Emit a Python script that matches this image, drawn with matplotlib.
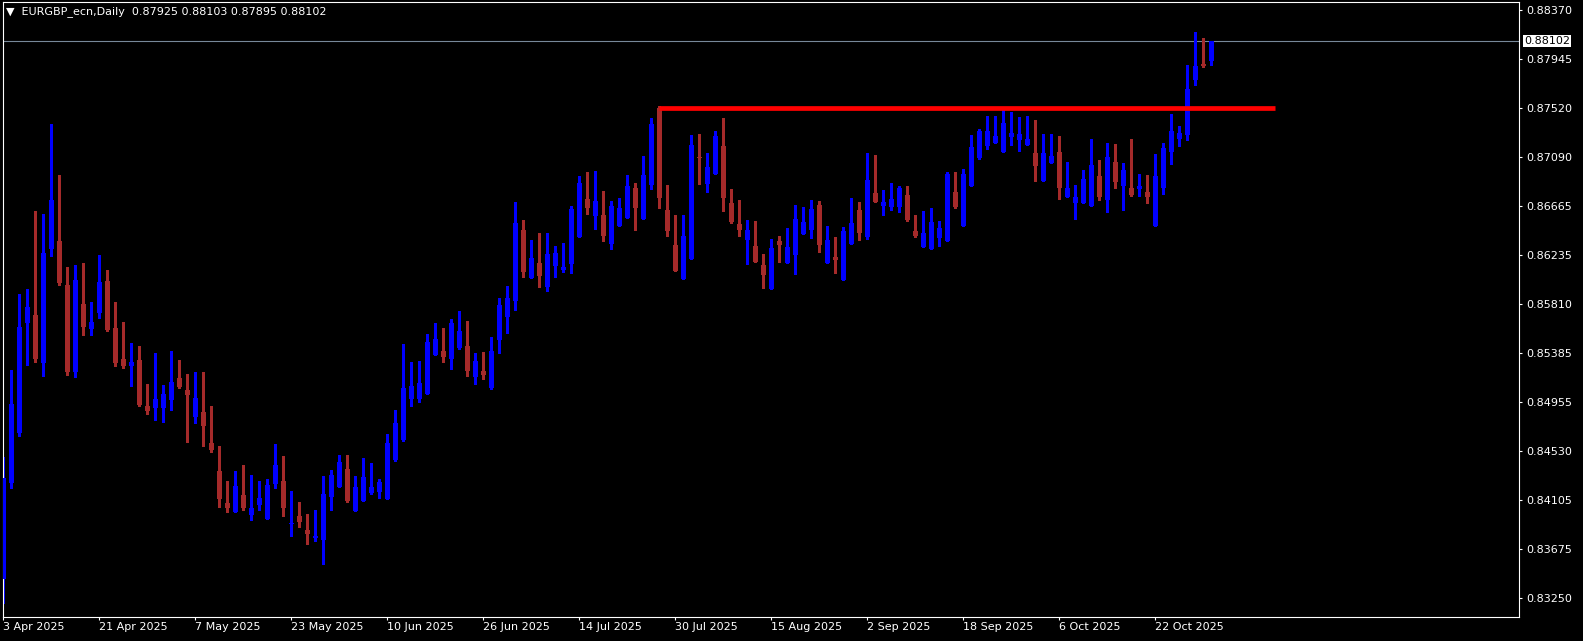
import matplotlib
matplotlib.use('Agg')
import matplotlib.pyplot as plt
import matplotlib.transforms as mtransforms
import numpy as np

# daily EURGBP candles, 3 Apr 2025 .. 31 Oct 2025
opens = [
    0.83415, 0.84251, 0.84692, 0.85650, 0.85716, 0.85301, 0.86294, 0.86361, 0.85977, 0.85223,
    0.85812, 0.85594, 0.85737, 0.86012, 0.85603, 0.85333, 0.85275, 0.85325, 0.84924, 0.84910,
    0.84910, 0.84979, 0.85168, 0.85063, 0.84831, 0.84872, 0.84602, 0.84358, 0.84080, 0.84004,
    0.84149, 0.83975, 0.84062, 0.83943, 0.84248, 0.84271, 0.83900, 0.83966, 0.83845, 0.83778,
    0.83760, 0.84135, 0.84222, 0.84376, 0.84013, 0.84100, 0.84167, 0.84178, 0.84117, 0.84457,
    0.84631, 0.84988, 0.84988, 0.85031, 0.85371, 0.85403, 0.85336, 0.85432, 0.85446, 0.85179,
    0.85229, 0.85084, 0.85502, 0.85702, 0.85841, 0.86456, 0.86041, 0.86169, 0.85963, 0.86146,
    0.86111, 0.86163, 0.86398, 0.86726, 0.86581, 0.86587, 0.86337, 0.86494, 0.86564, 0.86822,
    0.86555, 0.86851, 0.87519, 0.86631, 0.86326, 0.86033, 0.86207, 0.87092, 0.86860, 0.86947,
    0.87188, 0.86691, 0.86509, 0.86372, 0.86317, 0.86152, 0.85946, 0.86361, 0.86172, 0.86242,
    0.86424, 0.86459, 0.86674, 0.86172, 0.86221, 0.86024, 0.86337, 0.86631, 0.86398, 0.86779,
    0.86668, 0.86660, 0.86660, 0.86761, 0.86448, 0.86311, 0.86294, 0.86390, 0.86364, 0.86787,
    0.86494, 0.86842, 0.87086, 0.87191, 0.87217, 0.87138, 0.87266, 0.87243, 0.87197, 0.87127,
    0.86886, 0.87040, 0.87136, 0.86747, 0.86694, 0.86694, 0.86668, 0.86930, 0.86721, 0.87048,
    0.86842, 0.86825, 0.86816, 0.86790, 0.86494, 0.86825, 0.87138, 0.87249, 0.87284, 0.87765,
    0.87905, 0.87925,
]
highs = [
    0.84482, 0.85238, 0.85899, 0.85943, 0.86622, 0.86596, 0.87379, 0.86935, 0.86134, 0.86152,
    0.86169, 0.85830, 0.86239, 0.86108, 0.85830, 0.85655, 0.85473, 0.85446, 0.85116, 0.85386,
    0.85107, 0.85403, 0.85325, 0.85203, 0.85220, 0.85220, 0.84924, 0.84576, 0.84271, 0.84358,
    0.84410, 0.84323, 0.84271, 0.84289, 0.84593, 0.84489, 0.84184, 0.84088, 0.83984, 0.84019,
    0.84315, 0.84367, 0.84498, 0.84498, 0.84315, 0.84471, 0.84428, 0.84289, 0.84680, 0.84889,
    0.85464, 0.85307, 0.85316, 0.85551, 0.85647, 0.85603, 0.85682, 0.85751, 0.85664, 0.85386,
    0.85394, 0.85525, 0.85864, 0.85969, 0.86700, 0.86543, 0.86369, 0.86430, 0.86430, 0.86317,
    0.86343, 0.86665, 0.86926, 0.86961, 0.86970, 0.86796, 0.86709, 0.86735, 0.86935, 0.86866,
    0.87101, 0.87431, 0.87536, 0.86848, 0.86587, 0.86587, 0.87283, 0.87292, 0.87127, 0.87318,
    0.87431, 0.86813, 0.86718, 0.86543, 0.86535, 0.86247, 0.86378, 0.86404, 0.86474, 0.86674,
    0.86657, 0.86718, 0.86709, 0.86491, 0.86395, 0.86483, 0.86735, 0.86700, 0.87127, 0.87109,
    0.86805, 0.86866, 0.86839, 0.86839, 0.86587, 0.86622, 0.86648, 0.86535, 0.86961, 0.86961,
    0.86987, 0.87283, 0.87336, 0.87449, 0.87449, 0.87510, 0.87484, 0.87440, 0.87449, 0.87414,
    0.87292, 0.87292, 0.87275, 0.87048, 0.86848, 0.86979, 0.87249, 0.87066, 0.87214, 0.87205,
    0.87040, 0.87249, 0.86944, 0.86935, 0.87118, 0.87214, 0.87466, 0.87362, 0.87893, 0.88180,
    0.88128, 0.88103,
]
lows = [
    0.83211, 0.84207, 0.84666, 0.85281, 0.85310, 0.85188, 0.86233, 0.85978, 0.85197, 0.85179,
    0.85545, 0.85542, 0.85693, 0.85577, 0.85275, 0.85258, 0.85101, 0.84927, 0.84857, 0.84805,
    0.84788, 0.84892, 0.85084, 0.84614, 0.84773, 0.84579, 0.84527, 0.84048, 0.84004, 0.84001,
    0.84022, 0.83935, 0.84022, 0.83940, 0.84213, 0.83969, 0.83795, 0.83874, 0.83726, 0.83752,
    0.83551, 0.84022, 0.84219, 0.84091, 0.84010, 0.84097, 0.84161, 0.84126, 0.84114, 0.84448,
    0.84622, 0.84927, 0.84962, 0.85028, 0.85368, 0.85310, 0.85249, 0.85423, 0.85188, 0.85119,
    0.85162, 0.85075, 0.85389, 0.85563, 0.85763, 0.86050, 0.86038, 0.85963, 0.85928, 0.86050,
    0.86094, 0.86085, 0.86395, 0.86599, 0.86468, 0.86364, 0.86294, 0.86491, 0.86561, 0.86459,
    0.86552, 0.86813, 0.86651, 0.86407, 0.86099, 0.86030, 0.86204, 0.86860, 0.86790, 0.86944,
    0.86625, 0.86520, 0.86407, 0.86163, 0.86178, 0.85954, 0.85943, 0.86181, 0.86169, 0.86076,
    0.86421, 0.86390, 0.86268, 0.86169, 0.86085, 0.86021, 0.86334, 0.86372, 0.86381, 0.86700,
    0.86590, 0.86633, 0.86616, 0.86538, 0.86398, 0.86308, 0.86291, 0.86320, 0.86361, 0.86651,
    0.86491, 0.86839, 0.87077, 0.87164, 0.87214, 0.87135, 0.87197, 0.87147, 0.87194, 0.86886,
    0.86883, 0.87037, 0.86729, 0.86744, 0.86555, 0.86691, 0.86665, 0.86721, 0.86616, 0.86825,
    0.86634, 0.86755, 0.86755, 0.86694, 0.86491, 0.86773, 0.87034, 0.87191, 0.87243, 0.87722,
    0.87878, 0.87895,
]
closes = [
    0.84294, 0.84942, 0.85609, 0.85783, 0.85333, 0.86253, 0.86718, 0.85998, 0.85223, 0.86021,
    0.85615, 0.85655, 0.86004, 0.85586, 0.85301, 0.85275, 0.85307, 0.84936, 0.84883, 0.84985,
    0.85029, 0.85133, 0.85092, 0.85023, 0.84994, 0.84753, 0.84544, 0.84117, 0.84039, 0.84228,
    0.84039, 0.84036, 0.84123, 0.84236, 0.84410, 0.84039, 0.83906, 0.83917, 0.83813, 0.83792,
    0.84158, 0.84323, 0.84437, 0.84100, 0.84219, 0.84306, 0.84219, 0.84262, 0.84602, 0.84776,
    0.85081, 0.85098, 0.85124, 0.85481, 0.85507, 0.85354, 0.85647, 0.85577, 0.85232, 0.85316,
    0.85197, 0.85403, 0.85803, 0.85864, 0.86517, 0.86094, 0.86213, 0.86059, 0.86247, 0.86256,
    0.86134, 0.86639, 0.86866, 0.86651, 0.86709, 0.86407, 0.86665, 0.86648, 0.86839, 0.86651,
    0.86935, 0.87379, 0.86738, 0.86451, 0.86102, 0.86404, 0.87196, 0.87086, 0.87005, 0.87275,
    0.86738, 0.86529, 0.86459, 0.86456, 0.86181, 0.86068, 0.86300, 0.86329, 0.86308, 0.86552,
    0.86526, 0.86639, 0.86329, 0.86369, 0.86198, 0.86448, 0.86517, 0.86433, 0.86892, 0.86703,
    0.86700, 0.86726, 0.86822, 0.86546, 0.86407, 0.86430, 0.86526, 0.86474, 0.86944, 0.86660,
    0.86944, 0.87179, 0.87318, 0.87318, 0.87275, 0.87388, 0.87301, 0.87292, 0.87249, 0.87017,
    0.87127, 0.87101, 0.86825, 0.86825, 0.86747, 0.86900, 0.87022, 0.86747, 0.87092, 0.86877,
    0.86979, 0.86764, 0.86842, 0.86747, 0.86930, 0.87170, 0.87318, 0.87301, 0.87684, 0.87884,
    0.87887, 0.88102,
]

date_labels = ['3 Apr 2025', '21 Apr 2025', '7 May 2025', '23 May 2025', '10 Jun 2025',
               '26 Jun 2025', '14 Jul 2025', '30 Jul 2025', '15 Aug 2025', '2 Sep 2025',
               '18 Sep 2025', '6 Oct 2025', '22 Oct 2025']
label_step = 12  # one date label every 12 bars

price_ticks = [0.88370, 0.87945, 0.87520, 0.87090, 0.86665, 0.86235, 0.85810,
               0.85385, 0.84955, 0.84530, 0.84105, 0.83675, 0.83250]

last_price = 0.88102
resistance = 0.87516
res_from, res_to = 82, 159  # bar index range of the red line

title = '\u25bc  EURGBP_ecn,Daily  0.87925 0.88103 0.87895 0.88102'

W, H = 1583, 641
fig = plt.figure(figsize=(W / 100, H / 100), dpi=100, facecolor='black')
ax = fig.add_axes([2.5 / W, 24.3 / H, (1519 - 2.5) / W, (616.7 - 2) / H])
ax.set_facecolor('black')

o = np.array(opens)
h = np.array(highs)
l = np.array(lows)
c = np.array(closes)
x = np.arange(len(o))
up = c >= o
cols = np.where(up, '#0000ff', '#a52a2a')

px = (0.884414 - 0.830892) / 614.7  # price per pixel
ax.vlines(x, l, h, colors=cols, linewidth=0.8, antialiased=False, zorder=2)
body_lo = np.minimum(o, c)
body_h = np.maximum(np.abs(c - o), px)
ax.bar(x, body_h, bottom=body_lo, width=0.68, color=cols, linewidth=0,
       antialiased=False, zorder=3)

# bid line and resistance
ax.axhline(last_price, color='#778899', linewidth=0.8, zorder=1)
ax.hlines(resistance, res_from, res_to, colors='#ff0000', linewidth=3.4, zorder=4)

ax.set_xlim(-0.1, 189.46)
ax.set_ylim(0.830892, 0.884414)

for s in ax.spines.values():
    s.set_color('white')
    s.set_linewidth(0.8)

ax.yaxis.tick_right()
ax.set_yticks(price_ticks)
ax.set_yticklabels(['%.5f' % v for v in price_ticks])
ax.tick_params(axis='y', colors='white', labelsize=8, length=2.5, width=0.8, pad=3)

ax.set_xticks(np.arange(len(date_labels)) * label_step)
ax.set_xticklabels(date_labels)
for t in ax.get_xticklabels():
    t.set_horizontalalignment('left')
ax.tick_params(axis='x', colors='white', labelsize=8, length=2.5, width=0.8, pad=1.5)

# current price box on the price scale
tr = mtransforms.blended_transform_factory(fig.transFigure, ax.transData)
ax.text(1524 / W, last_price, '%.5f' % last_price, transform=tr, fontsize=8,
        color='black', va='center', ha='left', clip_on=False, zorder=10,
        bbox=dict(facecolor='white', edgecolor='none', boxstyle='square,pad=0.12'))

fig.text(6 / W, 1 - 12 / H, title, color='white', fontsize=8, va='center', ha='left')

fig.savefig('out.png', dpi=100, facecolor='black')
